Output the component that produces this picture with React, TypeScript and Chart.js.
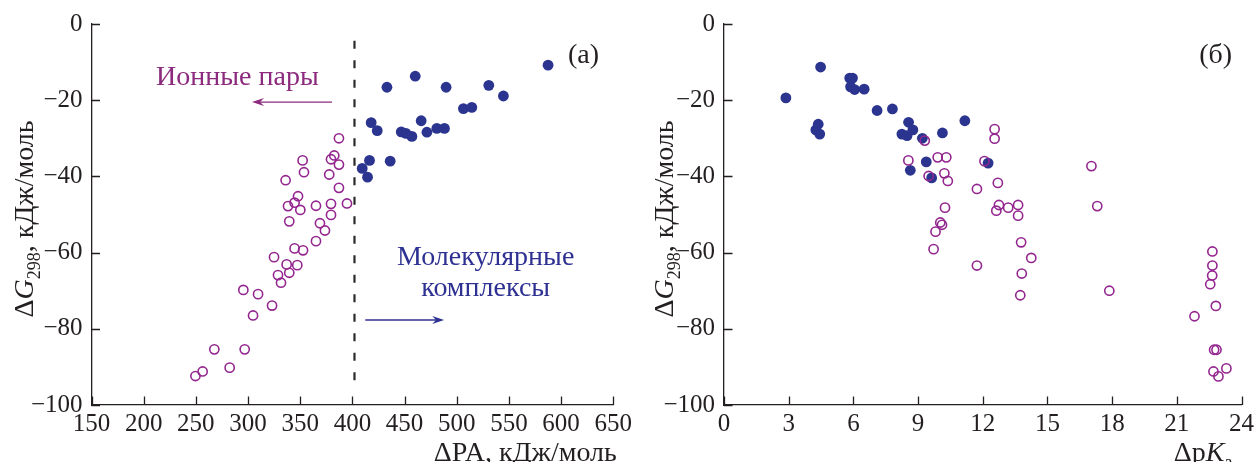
import React, { useEffect, useRef } from "react";
import { Chart, registerables } from "chart.js";

Chart.register(...registerables);

const FONT = '"Liberation Serif", "Times New Roman", serif';
const INK = "#231f20";
const BLUE = "#2b3590";
const PURPLE = "#93278f";
const TEXT_PURPLE = "#8c2a7e";
const TEXT_BLUE = "#2e3192";

// ---------- Panel (а): ΔG298 vs ΔPA ----------
const paIonPairs = [
  249.6, 256.5, 267.7, 282.4, 296.8, 295.5, 309.6, 304.8, 323, 331.6, 328.7, 324.9, 337,
  339.5, 347.2, 344.6, 352.7, 365.1, 373.7, 368.9, 379.5, 339.5, 338.3, 344.6, 350.1, 365.1,
  379.5, 394.8, 387.1, 352.3, 353.6, 336, 382.6, 379.5, 387.1, 377.8, 387.1, 347.9,
];
const dgIonPairsA = [
  -92.4, -91.2, -85.4, -90.2, -85.4, -69.8, -70.9, -76.5, -73.9, -67.9, -65.9, -61.2, -63.1,
  -65.3, -63.3, -58.9, -59.4, -57.0, -54.2, -52.3, -50.1, -51.8, -47.8, -46.9, -48.8, -47.7,
  -47.2, -47.1, -30.0, -35.8, -38.9, -41.0, -34.5, -35.5, -36.9, -39.5, -43.0, -45.2,
];
const paMolComplexes = [
  587.5, 460.2, 433.1, 489.8, 530.7, 544.7, 506.4, 514.4, 418, 423.8, 465.9, 446.8, 451.3,
  457, 471.4, 480.9, 488.2, 416.4, 436.2, 409.4, 414.5,
];
const dgMolComplexesA = [
  -10.8, -13.7, -16.6, -16.6, -16.1, -18.9, -22.2, -21.9, -25.9, -28.0, -25.4, -28.3, -28.7,
  -29.5, -28.4, -27.4, -27.4, -35.8, -36.0, -37.9, -40.2,
];
const paTicks = [150, 200, 250, 300, 350, 400, 450, 500, 550, 600, 650];
const boundaryPA = 402;
const boundaryDG = [-4.4, -96.1];

// ---------- Panel (б): ΔG298 vs ΔpKa ----------
const pkaIonPairs = [
  9.31, 8.55, 9.91, 10.31, 9.49, 10.22, 10.38, 12.08, 12.55, 12.55, 11.73, 12.7, 17.04, 10.25,
  12.75, 12.63, 13.18, 13.64, 13.64, 17.31, 10.03, 10.11, 9.81, 9.72, 13.78, 14.25, 11.73,
  13.81, 13.74, 17.87, 22.65, 22.65, 22.64, 22.55, 22.81, 21.82, 22.73, 22.84, 22.7, 23.3,
  22.93,
];
const dgIonPairsB = [
  -30.6, -35.8, -35.0, -35.0, -39.9, -39.2, -41.2, -36.0, -27.6, -30.1, -43.3, -41.7, -37.3,
  -48.2, -47.5, -49.0, -48.2, -47.5, -50.3, -47.8, -52.1, -52.7, -54.5, -59.1, -57.3, -61.4,
  -63.4, -65.5, -71.2, -70.0, -59.7, -63.4, -66.0, -68.3, -74.0, -76.7, -85.5, -85.5, -91.2,
  -90.4, -92.5,
];
const pkaMolComplexes = [
  2.87, 4.48, 4.37, 4.26, 4.44, 5.83, 5.96, 5.87, 6.06, 6.5, 7.1, 7.81, 8.56, 8.76, 8.25, 8.49,
  9.2, 10.13, 11.17, 9.38, 8.64, 9.63, 12.25,
];
const dgMolComplexesB = [
  -19.4, -11.3, -26.3, -27.8, -28.9, -14.2, -14.2, -16.5, -17.2, -17.1, -22.7, -22.3, -25.8,
  -27.8, -28.9, -29.3, -30.0, -28.6, -25.4, -36.2, -38.4, -40.4, -36.5,
];
const pkaTicks = [0, 3, 6, 9, 12, 15, 18, 21, 24];

const dgTicks = [0, -20, -40, -60, -80, -100];

const H = 462;
const AREA_TOP = 21.5;
const AREA_BOTTOM = 405;
const TEXT_SIZE = 28;

type Part = { t: string; italic?: boolean; sub?: boolean };

function drawRich(
  ctx: CanvasRenderingContext2D,
  parts: Part[],
  x: number,
  y: number,
  size: number,
  color: string,
  align: "left" | "center" | "right"
) {
  const subSize = Math.round(size * 0.64);
  const fontFor = (p: Part) => `${p.italic ? "italic " : ""}${p.sub ? subSize : size}px ${FONT}`;
  let total = 0;
  for (const p of parts) {
    ctx.font = fontFor(p);
    total += ctx.measureText(p.t).width;
  }
  let cx = align === "left" ? x : align === "center" ? x - total / 2 : x - total;
  ctx.textAlign = "left";
  ctx.textBaseline = "alphabetic";
  ctx.fillStyle = color;
  for (const p of parts) {
    ctx.font = fontFor(p);
    ctx.fillText(p.t, cx, y + (p.sub ? size * 0.24 : 0));
    cx += ctx.measureText(p.t).width;
  }
}

function drawArrow(ctx: CanvasRenderingContext2D, x1: number, x2: number, y: number, color: string) {
  const dir = Math.sign(x2 - x1);
  ctx.save();
  ctx.strokeStyle = color;
  ctx.fillStyle = color;
  ctx.lineWidth = 1.4;
  ctx.beginPath();
  ctx.moveTo(x1, y);
  ctx.lineTo(x2 - dir * 6, y);
  ctx.stroke();
  ctx.beginPath();
  ctx.moveTo(x2, y);
  ctx.lineTo(x2 - dir * 12, y - 4);
  ctx.lineTo(x2 - dir * 8, y);
  ctx.lineTo(x2 - dir * 12, y + 4);
  ctx.closePath();
  ctx.fill();
  ctx.restore();
}

const fmt = (v: number) => (v < 0 ? "\u2212" + Math.abs(v) : String(v));

const yTitle: Part[] = [
  { t: "\u0394" },
  { t: "G", italic: true },
  { t: "298", sub: true },
  { t: ", кДж/моль" },
];

function buildConfig(opts: {
  width: number;
  areaLeft: number;
  areaRight: number;
  xMin: number;
  xMax: number;
  xTicks: number[];
  ionX: number[];
  ionY: number[];
  molX: number[];
  molY: number[];
  extra: any[];
  decorate: (chart: any, ctx: CanvasRenderingContext2D) => void;
}) {
  const decor = {
    id: "decor",
    afterDraw(chart: any) {
      const ctx: CanvasRenderingContext2D = chart.ctx;
      const xs = chart.scales.x;
      const ys = chart.scales.y;
      const { left, bottom } = chart.chartArea;
      ctx.save();
      ctx.strokeStyle = INK;
      ctx.lineWidth = 1.3;
      ctx.beginPath();
      for (const v of opts.xTicks) {
        const px = Math.round(xs.getPixelForValue(v)) + 0.5;
        ctx.moveTo(px, bottom);
        ctx.lineTo(px, bottom - 8.5);
      }
      for (const v of dgTicks) {
        const py = Math.round(ys.getPixelForValue(v)) + 0.5;
        ctx.moveTo(left, py);
        ctx.lineTo(left + 8.5, py);
      }
      ctx.stroke();
      ctx.restore();

      ctx.save();
      ctx.translate(33, 219);
      ctx.rotate(-Math.PI / 2);
      drawRich(ctx, yTitle, 0, 0, TEXT_SIZE, INK, "center");
      ctx.restore();

      ctx.save();
      opts.decorate(chart, ctx);
      ctx.restore();
    },
  };

  return {
    type: "scatter",
    data: {
      datasets: [
        {
          label: "ion",
          data: opts.ionX.map((x, i) => ({ x, y: opts.ionY[i] })),
          pointRadius: 4.6,
          pointHoverRadius: 4.6,
          borderWidth: 1.6,
          pointBorderColor: PURPLE,
          borderColor: PURPLE,
          pointBackgroundColor: "rgba(0,0,0,0)",
          backgroundColor: "rgba(0,0,0,0)",
          order: 0,
        },
        {
          label: "mol",
          data: opts.molX.map((x, i) => ({ x, y: opts.molY[i] })),
          pointRadius: 5.4,
          pointHoverRadius: 5.4,
          borderWidth: 0,
          pointBackgroundColor: BLUE,
          backgroundColor: BLUE,
          order: 1,
        },
        ...opts.extra,
      ],
    },
    options: {
      responsive: false,
      animation: false,
      devicePixelRatio: 1,
      events: [],
      layout: {
        padding: { top: AREA_TOP, left: 0, bottom: 0, right: opts.width - opts.areaRight },
      },
      plugins: {
        legend: { display: false },
        tooltip: { enabled: false },
        title: { display: false },
      },
      scales: {
        x: {
          type: "linear",
          min: opts.xMin,
          max: opts.xMax,
          afterBuildTicks: (s: any) => {
            s.ticks = opts.xTicks.map((v) => ({ value: v }));
          },
          afterFit: (s: any) => {
            s.height = H - AREA_BOTTOM;
          },
          grid: { display: false, drawTicks: false },
          border: { display: true, color: INK, width: 1.3 },
          ticks: {
            font: { family: FONT, size: 25 },
            color: INK,
            padding: 4,
            maxRotation: 0,
            autoSkip: false,
            callback: (v: any) => fmt(Number(v)),
          },
        },
        y: {
          type: "linear",
          min: -100,
          max: 0,
          afterBuildTicks: (s: any) => {
            s.ticks = dgTicks.map((v) => ({ value: v }));
          },
          afterFit: (s: any) => {
            s.width = opts.areaLeft;
          },
          grid: { display: false, drawTicks: false },
          border: { display: true, color: INK, width: 1.3 },
          ticks: {
            font: { family: FONT, size: 25 },
            color: INK,
            padding: 9,
            autoSkip: false,
            callback: (v: any) => fmt(Number(v)),
          },
        },
      },
    },
    plugins: [decor],
  } as any;
}

export default function App() {
  const leftRef = useRef<HTMLCanvasElement | null>(null);
  const rightRef = useRef<HTMLCanvasElement | null>(null);

  useEffect(() => {
    const leftCfg = buildConfig({
      width: 640,
      areaLeft: 91.5,
      areaRight: 613.3,
      xMin: 150,
      xMax: 650,
      xTicks: paTicks,
      ionX: paIonPairs,
      ionY: dgIonPairsA,
      molX: paMolComplexes,
      molY: dgMolComplexesA,
      extra: [
        {
          type: "line",
          label: "boundary",
          data: [
            { x: boundaryPA, y: boundaryDG[0] },
            { x: boundaryPA, y: boundaryDG[1] },
          ],
          borderColor: "#2a2a2a",
          borderWidth: 2.2,
          borderDash: [8, 11.5],
          pointRadius: 0,
          showLine: true,
          fill: false,
          order: 2,
        },
      ],
      decorate: (chart, ctx) => {
        const xs = chart.scales.x;
        const ys = chart.scales.y;
        const { right } = chart.chartArea;
        drawRich(ctx, [{ t: "Ионные пары" }], xs.getPixelForValue(289.8), ys.getPixelForValue(-16.0), TEXT_SIZE, TEXT_PURPLE, "center");
        drawArrow(ctx, xs.getPixelForValue(380.4), xs.getPixelForValue(303.8), ys.getPixelForValue(-20.5), TEXT_PURPLE);
        drawRich(ctx, [{ t: "Молекулярные" }], xs.getPixelForValue(527.7), ys.getPixelForValue(-63.3), TEXT_SIZE, TEXT_BLUE, "center");
        drawRich(ctx, [{ t: "комплексы" }], xs.getPixelForValue(527.7), ys.getPixelForValue(-71.3), TEXT_SIZE, TEXT_BLUE, "center");
        drawArrow(ctx, xs.getPixelForValue(412.3), xs.getPixelForValue(487.9), ys.getPixelForValue(-77.7), TEXT_BLUE);
        drawRich(ctx, [{ t: "(а)" }], xs.getPixelForValue(621.5), ys.getPixelForValue(-7.8) + 9, TEXT_SIZE, INK, "center");
        drawRich(ctx, [{ t: "\u0394PA, кДж/моль" }], right + 3.5, 461, TEXT_SIZE, INK, "right");
      },
    });

    const rightCfg = buildConfig({
      width: 618,
      areaLeft: 84,
      areaRight: 602,
      xMin: 0,
      xMax: 24,
      xTicks: pkaTicks,
      ionX: pkaIonPairs,
      ionY: dgIonPairsB,
      molX: pkaMolComplexes,
      molY: dgMolComplexesB,
      extra: [],
      decorate: (chart, ctx) => {
        const xs = chart.scales.x;
        const ys = chart.scales.y;
        const { right } = chart.chartArea;
        drawRich(ctx, [{ t: "(б)" }], xs.getPixelForValue(22.8), ys.getPixelForValue(-7.8) + 9, TEXT_SIZE, INK, "center");
        drawRich(
          ctx,
          [{ t: "\u0394p" }, { t: "K", italic: true }, { t: "a", sub: true }],
          right - 9,
          461,
          TEXT_SIZE,
          INK,
          "right"
        );
      },
    });

    const c1 = new Chart(leftRef.current as HTMLCanvasElement, leftCfg);
    const c2 = new Chart(rightRef.current as HTMLCanvasElement, rightCfg);
    return () => {
      c1.destroy();
      c2.destroy();
    };
  }, []);

  return (
    <div
      style={{
        position: "fixed",
        left: 0,
        top: 0,
        width: 1258,
        height: H,
        background: "#ffffff",
        overflow: "hidden",
      }}
    >
      <canvas
        ref={leftRef}
        width={640}
        height={H}
        style={{ position: "absolute", left: 0, top: 0, width: 640, height: H, display: "block" }}
      />
      <canvas
        ref={rightRef}
        width={618}
        height={H}
        style={{ position: "absolute", left: 640, top: 0, width: 618, height: H, display: "block" }}
      />
    </div>
  );
}
